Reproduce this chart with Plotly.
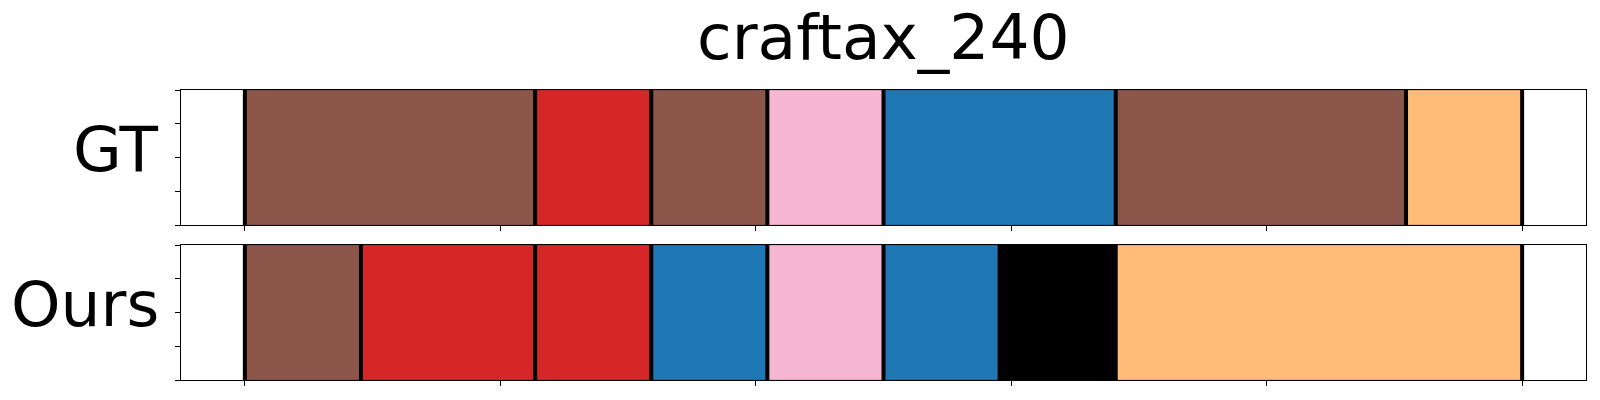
import numpy as np
import plotly.graph_objects as go
from plotly.subplots import make_subplots

title = "craftax_240"
row_labels = ["GT", "Ours"]

# segment durations (steps) and colours per row
gt_durations = [5, 2, 2, 2, 4, 5, 2]
gt_colors = ["#8c564b", "#d62728", "#8c564b", "#f7b6d2", "#1f77b4", "#8c564b", "#ffbb78"]
ours_durations = [2, 3, 2, 2, 2, 2, 2, 7]
ours_colors = ["#8c564b", "#d62728", "#d62728", "#1f77b4", "#f7b6d2", "#1f77b4", "#000000", "#ffbb78"]

rows = [(gt_durations, gt_colors), (ours_durations, ours_colors)]

W, H = 1600, 400
ml, mr, mt, mb = 181, 14, 90, 20
ph = H - mt - mb
gap = 20

fig = make_subplots(rows=2, cols=1, shared_xaxes=False, vertical_spacing=gap / ph)

for r, (durs, cols) in enumerate(rows, start=1):
    total = sum(durs)
    starts = np.concatenate([[0], np.cumsum(durs)[:-1]]) / total
    widths = np.array(durs) / total
    fig.add_trace(go.Bar(
        x=widths, base=starts, y=[0.5] * len(durs), orientation="h", width=1.0,
        marker=dict(color=cols, line=dict(color="rgba(0,0,0,0.35)", width=0.6)),
        showlegend=False, hoverinfo="skip"), row=r, col=1)
    bounds = np.concatenate([[0], np.cumsum(durs)]) / total
    lx, ly = [], []
    for b in bounds:
        lx += [b, b, None]
        ly += [0, 1, None]
    fig.add_trace(go.Scatter(x=lx, y=ly, mode="lines",
                             line=dict(color="black", width=4),
                             showlegend=False, hoverinfo="skip"), row=r, col=1)

tickv = [0, 0.2, 0.4, 0.6, 0.8, 1.0]
for r in (1, 2):
    fig.update_xaxes(range=[-0.05, 1.05], tickvals=tickv, ticktext=[""] * 6,
                     ticks="outside", ticklen=5, tickwidth=1, tickcolor="black",
                     showline=True, linecolor="black", linewidth=1, mirror=True,
                     showgrid=False, zeroline=False, automargin=False, row=r, col=1)
    fig.update_yaxes(range=[0, 1], tickvals=[0, 0.25, 0.5, 0.75, 1.0], ticktext=[""] * 5,
                     ticks="outside", ticklen=5, tickwidth=1, tickcolor="black",
                     showline=True, linecolor="black", linewidth=1, mirror=True,
                     showgrid=False, zeroline=False, automargin=False, row=r, col=1)

annots = []
for i, lab in enumerate(row_labels):
    yref = "y domain" if i == 0 else "y2 domain"
    annots.append(dict(text=lab, x=0, xref="paper", y=0.5, yref=yref,
                       xanchor="right", yanchor="middle", xshift=-20, yshift=8,
                       showarrow=False, font=dict(family="DejaVu Sans", size=63, color="black")))
annots.append(dict(text=title, x=0.5, xref="paper", y=1, yref="paper",
                   xanchor="center", yanchor="bottom", yshift=14,
                   showarrow=False, font=dict(family="DejaVu Sans", size=63, color="black")))

fig.update_layout(width=W, height=H, margin=dict(l=ml, r=mr, t=mt, b=mb),
                  paper_bgcolor="white", plot_bgcolor="white",
                  barmode="overlay", annotations=annots)

fig.write_html("out.html", config={"displayModeBar": False},
               post_script="document.body.style.margin='0';")
